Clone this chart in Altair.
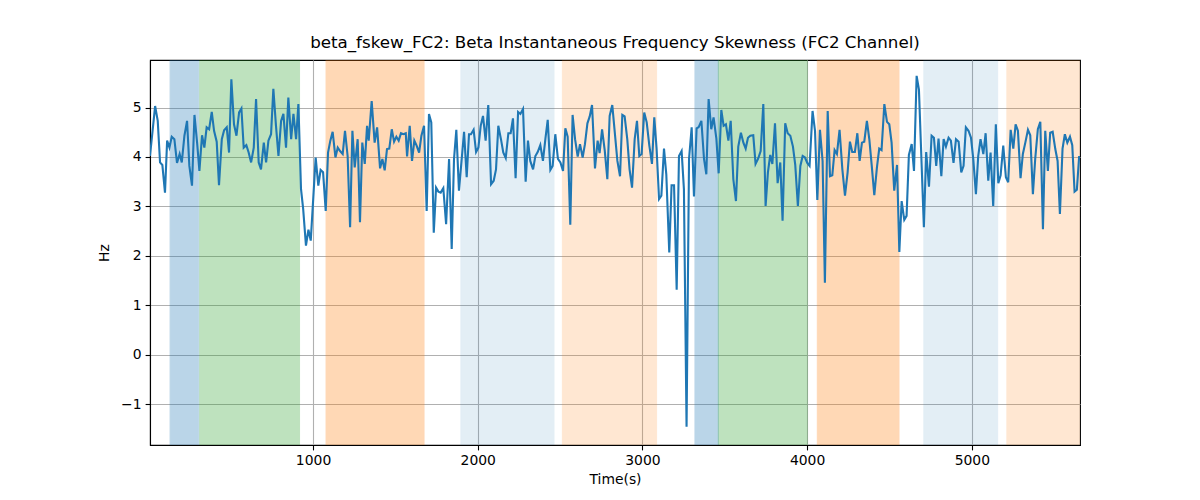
import altair as alt
import pandas as pd

# shaded epochs: start / end (s), colour and alpha
band_start = [132, 312, 1079, 1898, 2514, 3319, 3461, 4062, 4709, 5213]
band_end = [306, 918, 1674, 2463, 3086, 3461, 4001, 4558, 5157, 5700]
band_color = ["#1f77b4", "#2ca02c", "#ff7f0e", "#1f77b4", "#ff7f0e",
              "#1f77b4", "#2ca02c", "#ff7f0e", "#1f77b4", "#ff7f0e"]
band_alpha = [0.3, 0.3, 0.3, 0.12, 0.18, 0.3, 0.3, 0.3, 0.12, 0.18]

t1 = [10, 41, 57, 71, 85, 101, 114, 128, 142, 158, 174, 190, 203, 219, 235,
      249, 265, 280, 296, 310, 326, 340, 354, 369, 385, 399, 415, 429, 446, 460,
      476, 490, 504, 520, 535, 551, 565, 579, 595, 609, 624, 640, 654, 670, 684,
      701, 715, 729, 745, 759, 775, 790, 806, 820, 836, 850, 867, 881, 897, 911]
v1 = [4.02, 5.03, 4.73, 3.89, 3.84, 3.28, 4.33, 4.19, 4.41, 4.36, 3.88, 4.06, 3.89, 4.43, 4.73,
      3.82, 3.42, 4.85, 4.29, 3.72, 4.44, 4.19, 4.60, 4.56, 4.91, 4.53, 4.31, 3.43, 4.36, 4.54,
      4.60, 4.09, 5.57, 4.66, 4.43, 4.90, 4.98, 4.19, 4.24, 4.09, 3.89, 4.19, 5.17, 3.89, 3.75,
      4.29, 3.89, 4.33, 4.46, 5.38, 4.63, 4.02, 4.73, 4.87, 4.19, 5.20, 4.36, 4.87, 4.36, 5.07]

t2 = [927, 940, 957, 972, 986, 1016, 1032, 1046, 1061, 1077, 1091, 1105, 1119, 1136, 1150,
      1164, 1180, 1194, 1210, 1225, 1239, 1253, 1271, 1285, 1299, 1314, 1328, 1338, 1356, 1374,
      1389, 1407, 1421, 1435, 1449, 1463, 1478, 1492, 1506, 1520, 1534, 1548, 1563, 1571, 1587,
      1601, 1615, 1629, 1644, 1658, 1674, 1690, 1704, 1718, 1733, 1747, 1761, 1775, 1791, 1808,
      1826, 1842, 1856, 1870]
v2 = [3.35, 2.95, 2.21, 2.53, 2.31, 3.99, 3.42, 3.74, 3.69, 2.91, 4.09, 4.33, 4.51, 3.99, 4.19,
      4.12, 4.06, 4.53, 4.02, 2.58, 4.53, 3.79, 4.36, 2.68, 4.29, 3.86, 4.63, 4.33, 5.13, 4.29,
      4.60, 3.77, 3.96, 3.73, 4.16, 4.17, 4.56, 4.31, 4.41, 4.33, 4.48, 4.46, 4.48, 4.01, 4.63,
      3.92, 4.33, 4.23, 4.09, 4.43, 4.63, 2.91, 4.87, 4.70, 2.47, 3.38, 3.30, 3.28, 3.37, 2.64,
      3.96, 2.14, 3.96, 4.55]

t3 = [1886, 1917, 1933, 1947, 1959, 1975, 1990, 2004, 2018, 2032, 2048, 2064, 2081, 2097, 2111,
      2125, 2141, 2155, 2170, 2186, 2200, 2214, 2230, 2245, 2259, 2275, 2291, 2305, 2319, 2336,
      2350, 2364, 2380, 2396, 2411, 2425, 2441, 2455, 2471, 2487, 2502, 2518, 2532, 2546, 2562,
      2576, 2591, 2607, 2621, 2637, 2651, 2666, 2680, 2694, 2712, 2728, 2740, 2755, 2771, 2787,
      2801, 2817]
v3 = [3.32, 4.51, 3.59, 4.46, 4.46, 4.55, 4.10, 4.19, 4.63, 4.83, 4.33, 5.05, 3.45, 3.52, 3.75,
      4.63, 4.36, 4.09, 3.98, 4.48, 4.48, 4.78, 3.57, 4.91, 4.87, 4.97, 3.50, 4.33, 3.92, 3.75,
      4.02, 4.10, 4.24, 3.92, 4.37, 4.75, 3.74, 3.82, 4.46, 3.96, 3.89, 3.72, 4.58, 4.41, 2.63,
      4.85, 4.36, 4.01, 4.26, 3.99, 4.26, 4.68, 4.82, 5.05, 3.77, 4.33, 4.08, 4.56, 4.14, 3.55,
      4.83, 5.05]

t4 = [2848, 2864, 2878, 2892, 2908, 2922, 2937, 2953, 2967, 2981, 2995, 3011, 3026, 3042, 3058,
      3072, 3086, 3101, 3115, 3131, 3145, 3163, 3177, 3192, 3208, 3222, 3238, 3252, 3268, 3283,
      3299, 3313, 3329, 3341, 3358, 3374, 3388, 3402, 3418, 3432, 3449, 3463, 3479, 3493, 3507,
      3522, 3536, 3552, 3568, 3582, 3598, 3613, 3627, 3641, 3655, 3673, 3687, 3702, 3718, 3734,
      3748, 3762]
v4 = [3.92, 3.61, 4.85, 4.82, 4.36, 3.75, 3.38, 4.36, 4.73, 4.02, 4.06, 4.90, 4.70, 4.23, 3.86,
      4.80, 4.17, 3.15, 3.22, 4.17, 3.65, 2.07, 3.43, 3.43, 1.32, 4.02, 4.12, 3.35, -1.45, 3.96,
      4.60, 3.20, 4.58, 4.60, 4.73, 3.96, 3.65, 5.17, 4.56, 4.80, 4.37, 3.67, 4.95, 4.63, 4.66,
      4.33, 4.73, 3.55, 3.11, 4.21, 4.49, 4.29, 4.17, 4.39, 4.43, 4.44, 3.86, 3.96, 4.12, 5.07,
      3.01, 3.69]

t5 = [3776, 3789, 3805, 3821, 3837, 3851, 3867, 3882, 3898, 3914, 3928, 3944, 3959, 3973, 3987,
      4001, 4015, 4033, 4048, 4062, 4078, 4094, 4108, 4125, 4139, 4153, 4167, 4181, 4197, 4214,
      4230, 4246, 4260, 4274, 4290, 4305, 4319, 4333, 4347, 4363, 4378, 4392, 4408, 4424, 4438,
      4452, 4469, 4485, 4499, 4513, 4529, 4546, 4560, 4574, 4590, 4604, 4618, 4635, 4649, 4665,
      4679]
v5 = [4.04, 3.86, 4.68, 3.47, 3.89, 2.71, 4.68, 4.48, 4.43, 4.21, 3.84, 3.01, 3.82, 4.02, 3.99,
      3.88, 3.82, 4.93, 4.53, 3.13, 4.55, 3.92, 1.46, 4.93, 3.61, 3.63, 4.14, 4.06, 4.55, 3.75,
      3.22, 3.69, 4.31, 4.10, 4.10, 4.48, 3.92, 4.29, 4.31, 4.73, 4.35, 3.84, 3.23, 3.79, 4.17,
      4.14, 5.07, 4.71, 4.66, 4.29, 3.32, 3.84, 2.08, 3.11, 2.73, 2.81, 4.04, 4.26, 3.72, 5.64,
      5.36]

t6 = [4709, 4723, 4740, 4756, 4770, 4784, 4798, 4815, 4829, 4843, 4859, 4873, 4889, 4904, 4920,
      4936, 4950, 4964, 4980, 4995, 5009, 5025, 5039, 5053, 5070, 5084, 5100, 5114, 5130, 5146,
      5161, 5175, 5191, 5207, 5221, 5236, 5252, 5266, 5280, 5296, 5310, 5325, 5341, 5355, 5371,
      5385, 5401, 5416, 5432, 5446, 5462, 5476, 5491, 5507, 5521, 5535, 5551, 5565, 5580, 5596,
      5610, 5624, 5638, 5652]
v6 = [2.58, 4.10, 3.40, 4.43, 4.39, 3.82, 4.37, 3.61, 4.36, 4.21, 4.39, 4.33, 3.88, 4.36, 4.31,
      3.69, 3.82, 4.60, 4.53, 4.39, 3.96, 3.25, 4.02, 4.36, 4.06, 4.48, 3.52, 4.09, 3.01, 4.66,
      3.47, 3.63, 4.23, 3.59, 3.49, 4.55, 4.17, 4.66, 4.53, 3.57, 4.06, 4.29, 4.55, 4.44, 3.25,
      3.96, 4.56, 4.71, 2.54, 4.53, 3.72, 4.49, 4.51, 4.16, 3.92, 2.85, 4.17, 4.46, 4.29, 4.41,
      4.24, 3.30, 3.34, 4.02]

x_ticks = [1000, 2000, 3000, 4000, 5000]
y_ticks = [-1, 0, 1, 2, 3, 4, 5]

trace = pd.DataFrame({
    "t": t1 + t2 + t3 + t4 + t5 + t6,
    "v": v1 + v2 + v3 + v4 + v5 + v6,
})
bands = pd.DataFrame({"start": band_start, "end": band_end,
                      "color": band_color, "alpha": band_alpha})

xscale = alt.Scale(domain=[10, 5657], nice=False, zero=False)
yscale = alt.Scale(domain=[-1.82, 5.96], nice=False, zero=False)

shade = alt.Chart(bands).mark_rect(clip=True, strokeWidth=1).encode(
    x=alt.X("start:Q", scale=xscale,
            axis=alt.Axis(values=x_ticks, title="Time(s)", format="d")),
    x2="end:Q",
    color=alt.Color("color:N", scale=None),
    stroke=alt.Stroke("color:N", scale=None),
    opacity=alt.Opacity("alpha:Q", scale=None),
)

line = alt.Chart(trace).mark_line(clip=True, color="#1f77b4", strokeWidth=2.1).encode(
    x=alt.X("t:Q", scale=xscale),
    y=alt.Y("v:Q", scale=yscale, axis=alt.Axis(values=y_ticks, title="Hz")),
)

chart = (shade + line).properties(
    width=930,
    height=385,
    title=alt.Title("beta_fskew_FC2: Beta Instantaneous Frequency Skewness (FC2 Channel)",
                    fontSize=16.7, fontWeight="normal", font="DejaVu Sans", offset=8),
    autosize=alt.AutoSizeParams(type="none"),
    padding={"left": 142, "top": 52, "right": 100, "bottom": 46},
).configure_view(
    stroke="black", strokeWidth=1.1
).configure_axis(
    labelFont="DejaVu Sans", titleFont="DejaVu Sans",
    labelFontSize=13.9, titleFontSize=13.9, titleFontWeight="normal",
    labelColor="black", titleColor="black",
    gridColor="#b0b0b0", gridWidth=1.1,
    tickColor="black", tickSize=4.9, tickWidth=1.1,
    domainColor="black", domainWidth=1.1, labelPadding=4,
).configure_axisX(
    titlePadding=5
).configure_axisY(
    titlePadding=9
)

chart.save("out.html", embed_options={"renderer": "svg", "actions": False})
